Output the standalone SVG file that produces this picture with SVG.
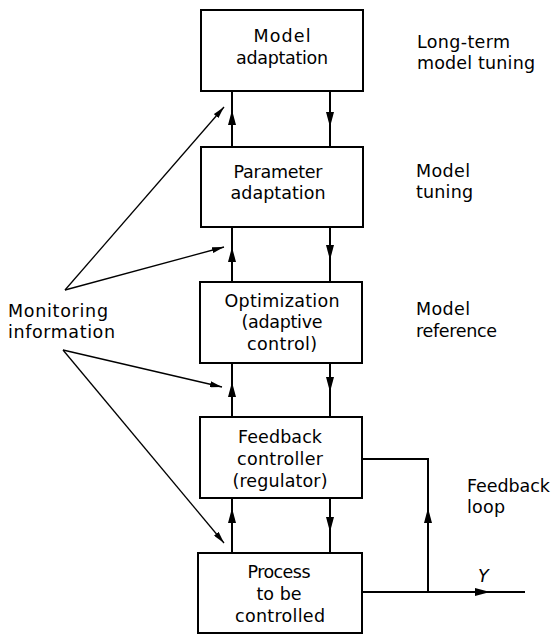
<svg xmlns="http://www.w3.org/2000/svg" width="553" height="634" viewBox="0 0 553 634">
<style>
.box{fill:#fff;stroke:#000;stroke-width:2}
.t{font-family:"DejaVu Sans","Liberation Sans",sans-serif;font-size:17.5px;fill:#000}
.c{text-anchor:middle}
.ln{fill:none;stroke:#000;stroke-width:2}
.mon{fill:none;stroke:#000;stroke-width:1.3}
</style>
<defs>
<marker id="ah" viewBox="0 0 15 8" refX="15" refY="4" markerWidth="15" markerHeight="8" markerUnits="userSpaceOnUse" orient="auto">
<path d="M0,0 L15,4 L0,8 Z" fill="#000"/>
</marker>
<marker id="am" viewBox="0 0 12 6" refX="12" refY="3" markerWidth="12" markerHeight="6" markerUnits="userSpaceOnUse" orient="auto">
<path d="M0,0 L12,3 L0,6 Z" fill="#000"/>
</marker>
</defs>
<g id="connectors">
<path class="ln" d="M232,147 L232,110" marker-end="url(#ah)"/><path class="ln" d="M232,110 L232,91"/>
<path class="ln" d="M330,91 L330,127" marker-end="url(#ah)"/><path class="ln" d="M330,127 L330,147"/>
<path class="ln" d="M232,282 L232,247" marker-end="url(#ah)"/><path class="ln" d="M232,247 L232,227"/>
<path class="ln" d="M330,227 L330,260" marker-end="url(#ah)"/><path class="ln" d="M330,260 L330,282"/>
<path class="ln" d="M232,417 L232,382" marker-end="url(#ah)"/><path class="ln" d="M232,382 L232,363"/>
<path class="ln" d="M330,363 L330,392" marker-end="url(#ah)"/><path class="ln" d="M330,392 L330,417"/>
<path class="ln" d="M232,553 L232,508" marker-end="url(#ah)"/><path class="ln" d="M232,508 L232,498"/>
<path class="ln" d="M330,498 L330,532" marker-end="url(#ah)"/><path class="ln" d="M330,532 L330,553"/>
<path class="ln" d="M362,592 L490,592" marker-end="url(#ah)"/><path class="ln" d="M490,592 L525,592"/>
<path class="ln" d="M428,592 L428,508" marker-end="url(#ah)"/><path class="ln" d="M428,508 L428,459 L362,459"/>
<path class="mon" d="M65,290 L224,107" marker-end="url(#am)"/>
<path class="mon" d="M65,290 L224,247" marker-end="url(#am)"/>
<path class="mon" d="M63,350 L222,387" marker-end="url(#am)"/>
<path class="mon" d="M63,350 L224,543" marker-end="url(#am)"/>
</g>
<g id="model-adaptation">
<rect class="box" x="201" y="10" width="162" height="81"/>
<text class="t c" x="282" y="42" textLength="57" lengthAdjust="spacing">Model</text>
<text class="t c" x="282" y="64" textLength="92" lengthAdjust="spacing">adaptation</text>
</g>
<g id="parameter-adaptation">
<rect class="box" x="201" y="147" width="162" height="80"/>
<text class="t c" x="278" y="178" textLength="89" lengthAdjust="spacing">Parameter</text>
<text class="t c" x="278" y="199" textLength="95" lengthAdjust="spacing">adaptation</text>
</g>
<g id="optimization">
<rect class="box" x="200" y="282" width="162" height="81"/>
<text class="t c" x="282" y="307" textLength="115" lengthAdjust="spacing">Optimization</text>
<text class="t c" x="282" y="328" textLength="81" lengthAdjust="spacing">(adaptive</text>
<text class="t c" x="282" y="350" textLength="70" lengthAdjust="spacing">control)</text>
</g>
<g id="feedback-controller">
<rect class="box" x="200" y="417" width="162" height="81"/>
<text class="t c" x="280" y="443" textLength="84" lengthAdjust="spacing">Feedback</text>
<text class="t c" x="280" y="465" textLength="86" lengthAdjust="spacing">controller</text>
<text class="t c" x="280" y="487" textLength="95" lengthAdjust="spacing">(regulator)</text>
</g>
<g id="process">
<rect class="box" x="198" y="553" width="164" height="80"/>
<text class="t c" x="279" y="578" textLength="63" lengthAdjust="spacing">Process</text>
<text class="t c" x="279" y="600" textLength="45" lengthAdjust="spacing">to be</text>
<text class="t c" x="280" y="622" textLength="90" lengthAdjust="spacing">controlled</text>
</g>
<g id="labels">
<text class="t" x="417" y="48" textLength="93" lengthAdjust="spacing">Long-term</text>
<text class="t" x="417" y="69" textLength="118" lengthAdjust="spacing">model tuning</text>
<text class="t" x="416" y="177" textLength="54" lengthAdjust="spacing">Model</text>
<text class="t" x="416" y="198" textLength="57" lengthAdjust="spacing">tuning</text>
<text class="t" x="416" y="315" textLength="54" lengthAdjust="spacing">Model</text>
<text class="t" x="416" y="337" textLength="81" lengthAdjust="spacing">reference</text>
<text class="t" x="467" y="492" textLength="83" lengthAdjust="spacing">Feedback</text>
<text class="t" x="467" y="513" textLength="38" lengthAdjust="spacing">loop</text>
<text class="t" x="8" y="317" textLength="100" lengthAdjust="spacing">Monitoring</text>
<text class="t" x="8" y="338" textLength="107" lengthAdjust="spacing">information</text>
<text class="t" x="478" y="582" font-style="italic">Y</text>
</g>
</svg>
